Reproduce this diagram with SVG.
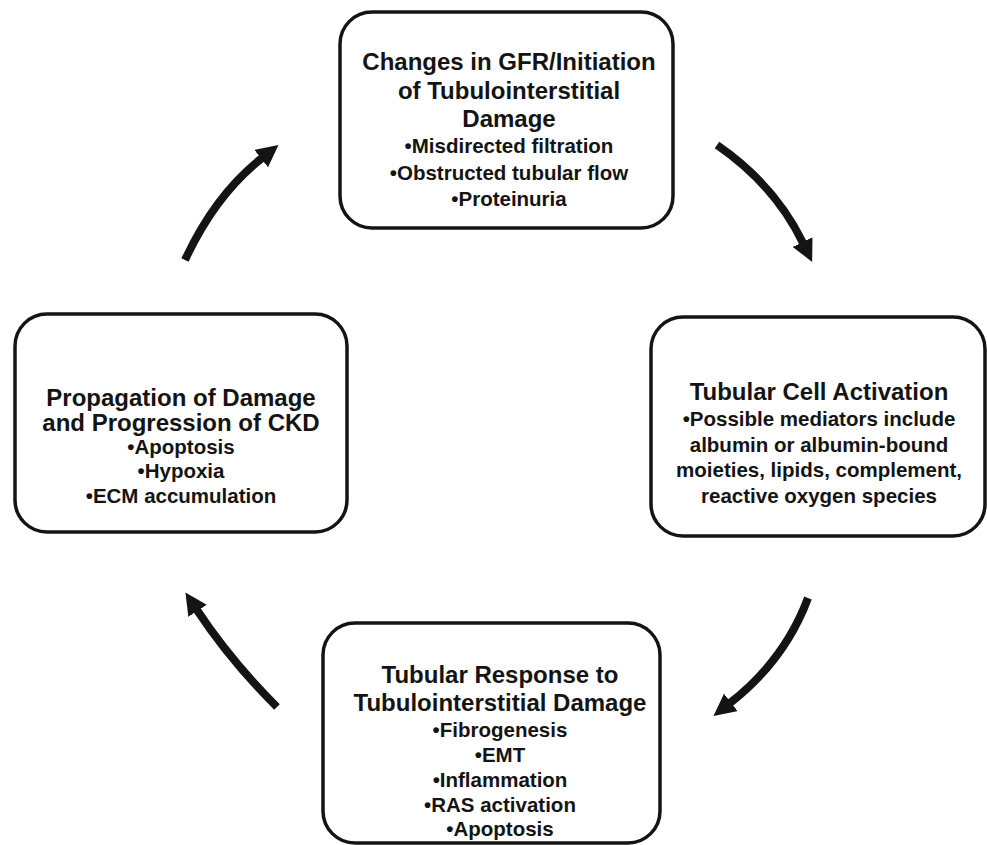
<svg xmlns="http://www.w3.org/2000/svg" width="987" height="845" viewBox="0 0 987 845">
<style>
.box{fill:#fff;stroke:#141414;stroke-width:3.5}
.t{font-family:"Liberation Sans",Arial,sans-serif;font-weight:bold;fill:#141414;text-anchor:middle}
.h{font-size:24px}
.b{font-size:20.5px}
.arr{fill:none;stroke:#141414;stroke-width:8;marker-end:url(#ah)}
</style>
<defs>
<marker id="ah" viewBox="0 -11 22 22" refX="1" refY="0" markerWidth="22" markerHeight="22" markerUnits="userSpaceOnUse" orient="auto">
<path d="M0,-11 L22,0 L0,11 z" fill="#141414"/>
</marker>
</defs>
<rect width="987" height="845" fill="#fff"/>
<g id="connectors">
<path class="arr" d="M717,145 Q775,185 803,243"/>
<path class="arr" d="M808,598 Q785,660 730,703"/>
<path class="arr" d="M277,707 Q230,660 197,610"/>
<path class="arr" d="M185,260 Q215,195 262,158"/>
</g>
<g id="node-top">
<rect class="box" x="340" y="12" width="333" height="216" rx="32"/>
<text class="t h" x="509" y="70">Changes in GFR/Initiation</text>
<text class="t h" x="509" y="99">of Tubulointerstitial</text>
<text class="t h" x="509" y="127">Damage</text>
<text class="t b" x="509" y="153">•Misdirected filtration</text>
<text class="t b" x="509" y="180">•Obstructed tubular flow</text>
<text class="t b" x="509" y="206">•Proteinuria</text>
</g>
<g id="node-right">
<rect class="box" x="651" y="317" width="334" height="219" rx="32"/>
<text class="t h" x="819" y="400">Tubular Cell Activation</text>
<text class="t b" x="819" y="426">•Possible mediators include</text>
<text class="t b" x="819" y="451.5">albumin or albumin-bound</text>
<text class="t b" x="819" y="477">moieties, lipids, complement,</text>
<text class="t b" x="819" y="502.5">reactive oxygen species</text>
</g>
<g id="node-bottom">
<rect class="box" x="323" y="623" width="337" height="220" rx="32"/>
<text class="t h" x="500" y="683">Tubular Response to</text>
<text class="t h" x="500" y="711">Tubulointerstitial Damage</text>
<text class="t b" x="500" y="737">•Fibrogenesis</text>
<text class="t b" x="500" y="762">•EMT</text>
<text class="t b" x="500" y="787">•Inflammation</text>
<text class="t b" x="500" y="812">•RAS activation</text>
<text class="t b" x="500" y="836">•Apoptosis</text>
</g>
<g id="node-left">
<rect class="box" x="15" y="314" width="332" height="218" rx="32"/>
<text class="t h" x="181" y="406">Propagation of Damage</text>
<text class="t h" x="181" y="431">and Progression of CKD</text>
<text class="t b" x="181" y="454">•Apoptosis</text>
<text class="t b" x="181" y="478">•Hypoxia</text>
<text class="t b" x="181" y="503">•ECM accumulation</text>
</g>
</svg>
